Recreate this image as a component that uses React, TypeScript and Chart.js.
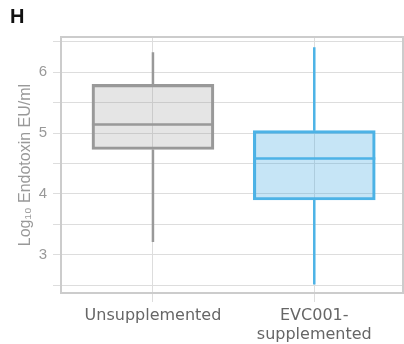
import React, { useEffect, useRef } from 'react';
import { Chart, registerables } from 'chart.js';

Chart.register(...registerables);

const categoryLabels: (string | string[])[] = ['Unsupplemented', ['EVC001-', 'supplemented']];
const categoryPositions = [1, 2];
const whiskerLow = [3.21, 2.51];
const q1 = [4.73, 3.9];
const median = [5.14, 4.58];
const q3 = [5.8, 5.04];
const whiskerHigh = [6.33, 6.41];
const yTickValues = [2.5, 3, 3.5, 4, 4.5, 5, 5.5, 6, 6.5];
const yLabelValues = [3, 4, 5, 6];
const strokeColors = ['#999999', '#4db3e6'];
const fillColors = ['rgba(150,150,150,0.25)', 'rgba(66,168,226,0.3)'];

const FONT = "'Liberation Sans', Arial, Helvetica, sans-serif";
const WIDE_FONT = "'DejaVu Sans', 'Liberation Sans', sans-serif";

const framePlugin = {
  id: 'frame',
  afterDraw(chart: any) {
    const { ctx, chartArea } = chart;
    ctx.save();
    ctx.strokeStyle = '#cccccc';
    ctx.lineWidth = 2;
    ctx.strokeRect(chartArea.left, chartArea.top, chartArea.right - chartArea.left, chartArea.bottom - chartArea.top);
    ctx.restore();
  },
};

const boxPlugin = {
  id: 'boxWhiskers',
  afterDatasetsDraw(chart: any) {
    const { ctx } = chart;
    const x = chart.scales.x;
    const y = chart.scales.y;
    const meta = chart.getDatasetMeta(0);
    ctx.save();
    categoryPositions.forEach((pos, i) => {
      const bar: any = meta.data[i];
      const cx = x.getPixelForValue(pos);
      const half = bar.width / 2;
      ctx.strokeStyle = strokeColors[i];
      ctx.lineWidth = 2.5;
      ctx.beginPath();
      ctx.moveTo(cx, y.getPixelForValue(whiskerHigh[i]));
      ctx.lineTo(cx, y.getPixelForValue(q3[i]));
      ctx.moveTo(cx, y.getPixelForValue(q1[i]));
      ctx.lineTo(cx, y.getPixelForValue(whiskerLow[i]));
      ctx.moveTo(cx - half, y.getPixelForValue(median[i]));
      ctx.lineTo(cx + half, y.getPixelForValue(median[i]));
      ctx.stroke();
    });
    ctx.restore();
  },
};

export default function App() {
  const canvasRef = useRef<HTMLCanvasElement | null>(null);

  useEffect(() => {
    if (!canvasRef.current) return;
    Chart.defaults.font.family = FONT;
    const chart = new Chart(canvasRef.current, {
      type: 'bar',
      data: {
        datasets: [
          {
            data: categoryPositions.map((p, i) => ({ x: p, y: [q1[i], q3[i]] })) as any,
            backgroundColor: fillColors,
            borderColor: strokeColors,
            borderWidth: 2.5,
            borderSkipped: false,
            barThickness: 122,
          },
        ],
      },
      options: {
        animation: false,
        responsive: true,
        maintainAspectRatio: false,
        layout: { padding: { left: 10, right: 1, top: 0, bottom: 0 } },
        plugins: {
          legend: { display: false },
          tooltip: { enabled: false },
          title: {
            display: true,
            text: 'H',
            align: 'start',
            color: '#111111',
            font: { size: 20, weight: 'bold', family: FONT },
            padding: { top: 5, bottom: 8 },
          },
        },
        scales: {
          x: {
            type: 'linear',
            min: 0.43,
            max: 2.55,
            offset: false,
            grid: { offset: false, color: '#dddddd', lineWidth: 1, tickLength: 9, drawTicks: true },
            border: { display: false },
            afterBuildTicks: (s: any) => {
              s.ticks = categoryPositions.map((v) => ({ value: v }));
            },
            afterFit: (s: any) => {
              s.height = 51;
            },
            ticks: {
              autoSkip: false,
              maxRotation: 0,
              color: '#666666',
              padding: 4,
              font: { size: 16, family: WIDE_FONT, lineHeight: 1.2 },
              callback: (v: any) => categoryLabels[categoryPositions.indexOf(Number(v))],
            },
          },
          y: {
            type: 'linear',
            min: 2.37,
            max: 6.58,
            grid: { color: '#dddddd', lineWidth: 1, tickLength: 8, drawTicks: true },
            border: { display: false },
            afterBuildTicks: (s: any) => {
              s.ticks = yTickValues.map((v) => ({ value: v }));
            },
            afterFit: (s: any) => {
              s.width = 51;
            },
            ticks: {
              autoSkip: false,
              color: '#999999',
              padding: 6,
              font: { size: 15, family: FONT },
              callback: (v: any) => (yLabelValues.includes(Number(v)) ? String(v) : ''),
            },
            title: {
              display: true,
              text: 'Log₁₀ Endotoxin EU/ml',
              color: '#999999',
              font: { size: 16, family: FONT },
              padding: { top: 6, bottom: 0 },
            },
          },
        },
      },
      plugins: [boxPlugin, framePlugin],
    } as any);
    return () => chart.destroy();
  }, []);

  return (
    <div style={{ position: 'absolute', left: 0, top: 0, width: 404, height: 344 }}>
      <canvas ref={canvasRef} />
    </div>
  );
}
